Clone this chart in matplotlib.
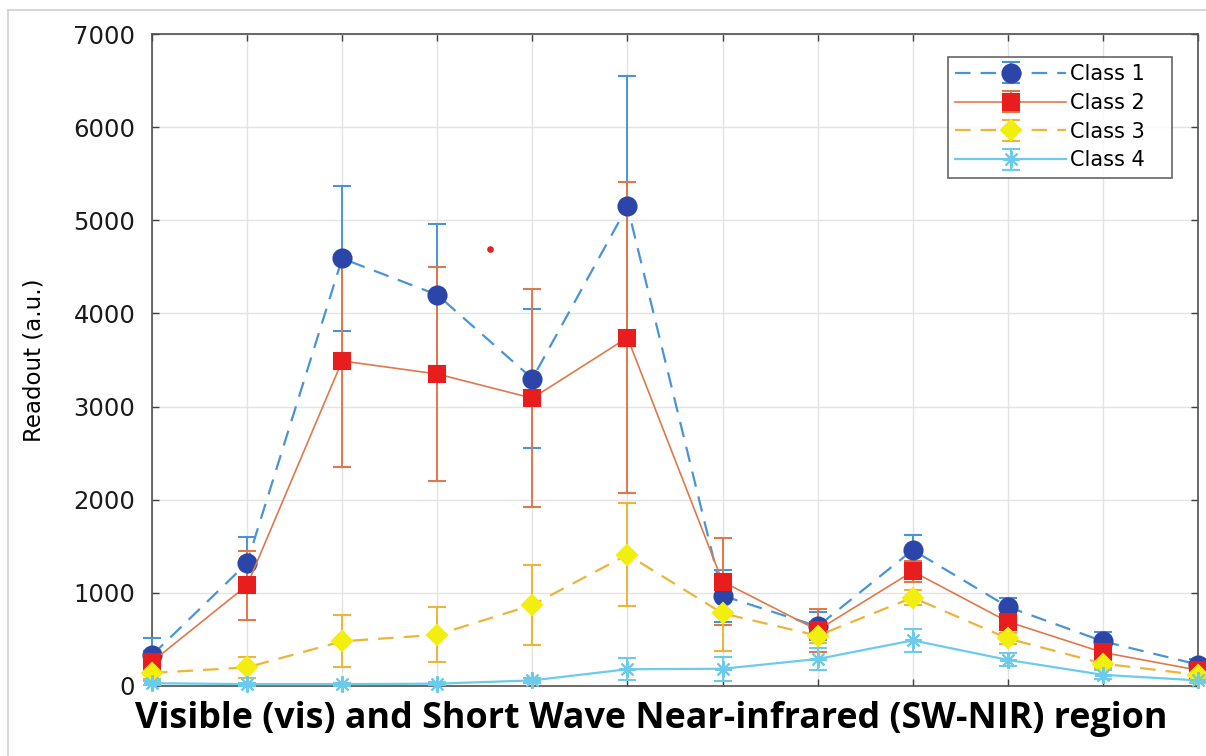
import matplotlib.pyplot as plt
import matplotlib.lines as mlines
import numpy as np

plt.rcParams['font.family'] = ['DejaVu Sans']

# 12 spectral channels, no labels on the x axis
channels = np.arange(1, 13)

class1 = [330, 1320, 4590, 4200, 3300, 5150, 970, 640, 1460, 850, 480, 230]
class1_err = [190, 280, 780, 760, 750, 1400, 280, 150, 160, 100, 100, 60]

class2 = [260, 1080, 3490, 3350, 3090, 3740, 1120, 600, 1230, 690, 360, 170]
class2_err = [120, 370, 1140, 1150, 1170, 1670, 470, 230, 110, 80, 60, 40]

class3 = [140, 200, 480, 550, 870, 1410, 780, 540, 950, 510, 240, 120]
class3_err = [60, 110, 280, 295, 430, 550, 400, 80, 80, 60, 50, 30]

class4 = [30, 20, 20, 25, 60, 180, 185, 290, 490, 280, 120, 60]
class4_err = [20, 15, 15, 15, 30, 120, 130, 120, 120, 70, 50, 30]

# stray red dot that is in the original figure
stray_x = [4.55]
stray_y = [4690]

fig = plt.figure(figsize=(12.06, 7.56), dpi=100)
ax = fig.add_axes([0.126, 0.0926, 0.8674, 0.8624])

series = [
    ("Class 1", class1, class1_err, "#4A94D6", "#2B45A8", "o", (0, (7, 4.5)), 13, 1.6),
    ("Class 2", class2, class2_err, "#E0784A", "#E81E1E", "s", "-", 11, 1.2),
    ("Class 3", class3, class3_err, "#EDB43A", "#F2EE10", "D", (0, (7, 4.5)), 10, 1.6),
    ("Class 4", class4, class4_err, "#6CCBEA", "#6CCBEA", (8, 2, 0), "-", 12, 1.6),
]

handles = []
for name, vals, err, lc, mc, mk, ls, ms, lw in series:
    h = ax.errorbar(channels, vals, yerr=err, color=lc, ls=ls, lw=lw,
                    marker=mk, ms=ms, mfc=mc, mec=mc, mew=1.5, ecolor=lc,
                    elinewidth=1.4, capsize=6.5, capthick=1.4,
                    clip_on=False, zorder=3, label=name + "   ")
    handles.append(h)

ax.scatter(stray_x, stray_y, s=14, color="#E81E1E", zorder=4)

ax.set_xlim(1, 12)
ax.set_ylim(0, 7000)
ax.set_xticks(channels)
ax.set_xticklabels([])
ax.set_yticks(np.arange(0, 7001, 1000))
ax.tick_params(direction="in", length=5, width=1, colors="#404040",
               top=True, right=True, labelsize=17.5, labelcolor="#1a1a1a", pad=12)
ax.grid(True, color="#e3e3e3", lw=1)
ax.set_axisbelow(True)
for s in ax.spines.values():
    s.set_color("#505050")
    s.set_linewidth(1.2)

ax.set_ylabel("Readout (a.u.)", fontsize=16.5)
ax.yaxis.set_label_coords(-0.102, 0.5)
ax.set_xlabel("Visible (vis) and Short Wave Near-infrared (SW-NIR) region",
              fontsize=25.8, fontweight="bold", family="Open Sans")
ax.xaxis.set_label_coords(0.477, -0.023)

leg = ax.legend(handles=handles, loc="upper right",
                bbox_to_anchor=(0.975, 0.965), fontsize=15,
                frameon=True, fancybox=False, edgecolor="#404040", handlelength=5.3,
                borderpad=0.35, labelspacing=0.42, handletextpad=0.2,
                borderaxespad=0)
leg.get_frame().set_linewidth(1.2)

# light grey frame around the whole picture
fig.add_artist(mlines.Line2D([0.0066, 0.0066], [0, 0.987], color="#d0d0d0", lw=1.2))
fig.add_artist(mlines.Line2D([0.0066, 1], [0.987, 0.987], color="#d0d0d0", lw=1.2))

fig.savefig("out.png", dpi=100)
